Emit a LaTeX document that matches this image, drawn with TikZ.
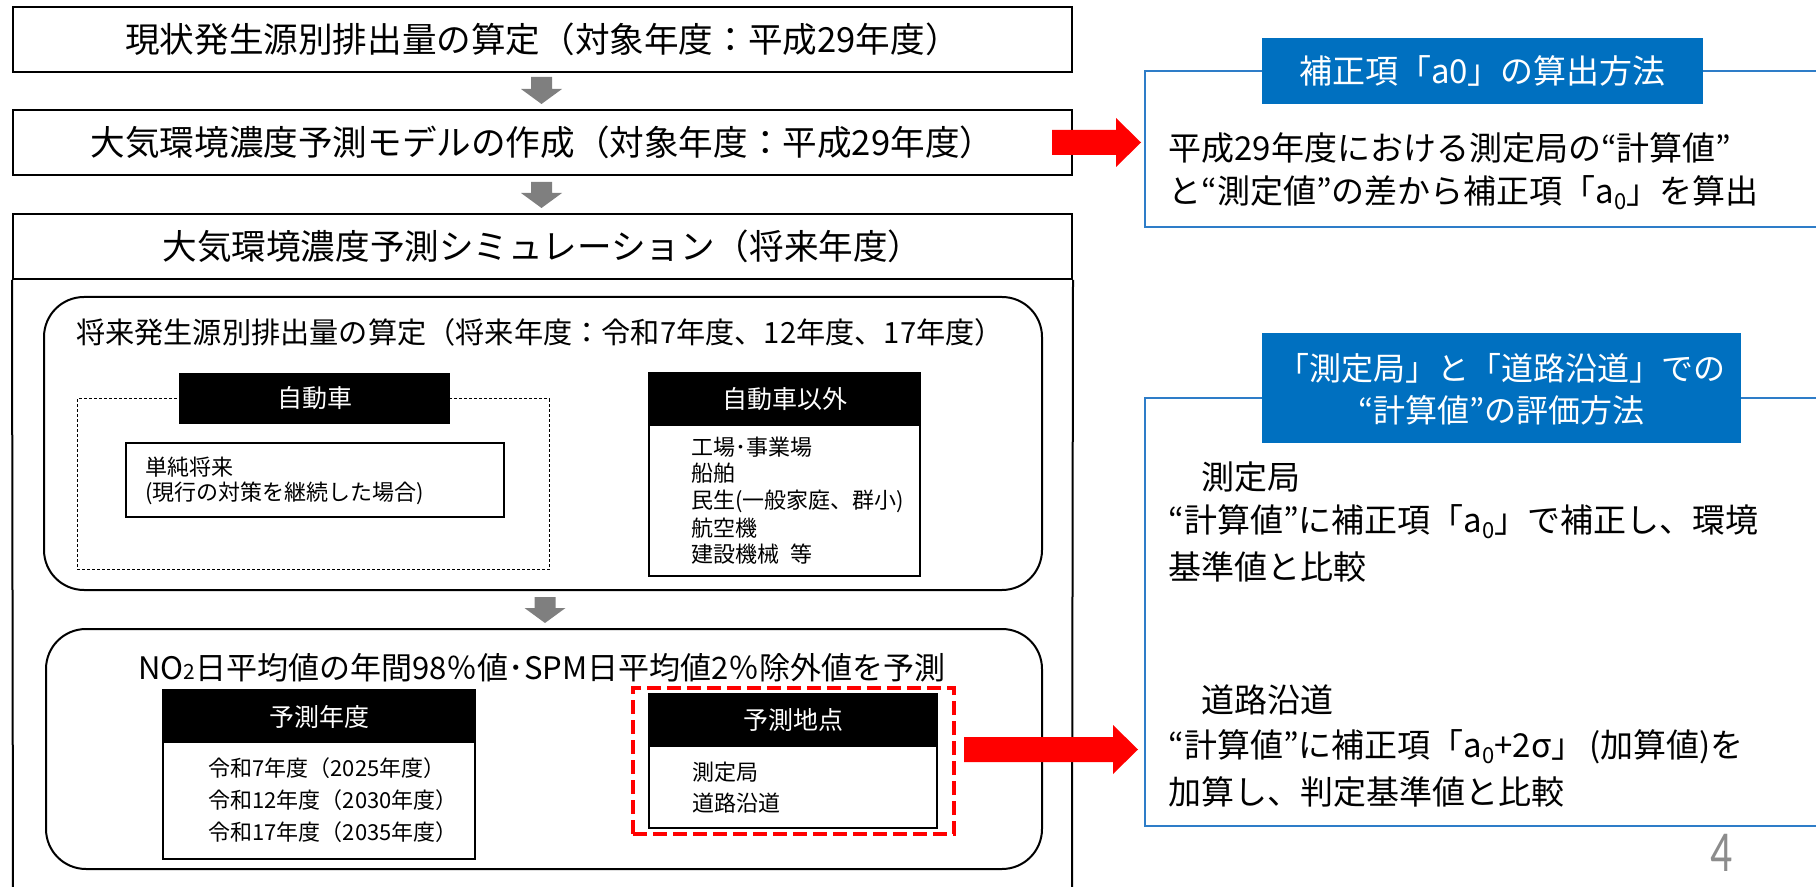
\documentclass[tikz,border=0pt]{standalone}
\usepackage{fontspec}
\usepackage{graphicx}
\setmainfont{Noto Sans CJK JP}
\newfontfamily\pagefont{Carlito}
\usetikzlibrary{fit}
\definecolor{hdrblue}{HTML}{0070C0}
\definecolor{lineblue}{HTML}{2E7DC8}
\definecolor{arrowgray}{HTML}{7F7F7F}
\definecolor{pagegray}{HTML}{8C8C8C}
\newcommand{\setfs}[1]{\fontsize{#1}{#1}\selectfont}
\newcommand{\subzero}[1]{\raisebox{-0.35ex}{\fontsize{11}{11}\selectfont #1}}
\newcommand{\grayblockdown}[3]{%
  \fill[arrowgray] (#1-10.5,#2) -- (#1+10.5,#2) -- (#1+10.5,#3-15) -- (#1+20.5,#3-15) -- (#1,#3) -- (#1-20.5,#3-15) -- (#1-10.5,#3-15) -- cycle;}
\newcommand{\redblockright}[4]{% x0, head base x, tip x, y center
  \fill[red] (#1,#4-12.5) -- (#2,#4-12.5) -- (#2,#4-24.5) -- (#3,#4) -- (#2,#4+24.5) -- (#2,#4+12.5) -- (#1,#4+12.5) -- cycle;}
\begin{document}
\begin{tikzpicture}[x=0.5pt,y=-0.5pt,
  frame/.style={draw=black, line width=1pt, inner sep=0pt, fill=white},
  thinframe/.style={draw=black, line width=0.8pt, inner sep=0pt, fill=white},
  roundframe/.style={draw=black, line width=1pt, rounded corners=20pt, inner sep=0pt},
  blackhdr/.style={fill=black, inner sep=0pt},
  hdrtext/.style={text=white, inner sep=0pt, font=\setfs{12.5}},
  titletext/.style={inner sep=0pt, font=\setfs{17.3}},
  listtext/.style={anchor=west, inner sep=0pt, font=\setfs{11}},
  bodytext/.style={anchor=west, inner sep=0pt, font=\setfs{16.5}},
  bluehdr/.style={fill=hdrblue, inner sep=0pt},
  whitetext/.style={text=white, inner sep=0pt, font=\setfs{16}},
]
\useasboundingbox (0,0) rectangle (1816,887);

% ---- main flow boxes
\node[frame, fit={(13,7)(1072,72)}] (b1) {};
\node[titletext] (b1t) at (b1.center) {現状発生源別排出量の算定（対象年度：平成29年度）};
\node[frame, fit={(13,110)(1072,175)}] (b2) {};
\node[titletext] (b2t) at (b2.center) {大気環境濃度予測モデルの作成（対象年度：平成29年度）};
\node[frame, fit={(13,214)(1072,279)}] (b3) {};
\node[titletext] (b3t) at (b3.center) {大気環境濃度予測シミュレーション（将来年度）};
\coordinate (b3bl) at (13,900);
\coordinate (b3br) at (1072,900);
\draw[line width=1pt] (b3.south west) -- (b3bl);
\draw[line width=1pt] (b3.south east) -- (b3br);

\grayblockdown{541.5}{77}{104}
\grayblockdown{541.5}{182}{208}

% ---- future emissions block
\node[roundframe, fit={(44,297)(1042,590)}] (rA) {};
\node[inner sep=0pt, font=\setfs{14.6}] (rAt) at (540,332) {将来発生源別排出量の算定（将来年度：令和7年度、12年度、17年度）};

\node[draw=black, line width=0.5pt, dash pattern=on 1.5pt off 1pt, inner sep=0pt, fit={(77,399)(549,570)}] (cardash) {};
\node[blackhdr, fit={(179,373)(450,424)}] (carh) {};
\node[hdrtext] (carht) at (carh.center) {自動車};
\node[thinframe, fit={(126,443)(504,517)}] (carbody) {};
\node[listtext] (c1) at (145,467) {単純将来};
\node[listtext] (c2) at (145,493) {(現行の対策を継続した場合)};

\node[thinframe, fit={(649,373)(920,576)}] (othbody) {};
\node[blackhdr, fit={(649,373)(920,426)}] (othh) {};
\node[hdrtext] (othht) at (othh.center) {自動車以外};
\node[listtext] (o1) at (691,447) {工場･事業場};
\node[listtext] (o2) at (691,473) {船舶};
\node[listtext] (o3) at (691,501) {民生(一般家庭、群小)};
\node[listtext] (o4) at (691,528) {航空機};
\node[listtext] (o5) at (691,554) {建設機械\hspace{0.5em}等};

\grayblockdown{545}{597}{623}

% ---- prediction block
\node[roundframe, fit={(46,629)(1042,869)}] (rB) {};
\node[inner sep=0pt, font=\setfs{15.5}] (rBt) at (542,668) {NO{\setfs{10.5}2}日平均値の年間98％値･SPM日平均値2％除外値を予測};

\node[thinframe, fit={(163,690)(475,859)}] (yrbody) {};
\node[blackhdr, fit={(163,690)(475,743)}] (yrh) {};
\node[hdrtext] (yrht) at (yrh.center) {予測年度};
\node[listtext] (y1) at (208,768) {令和7年度（2025年度）};
\node[listtext] (y2) at (208,800) {令和12年度（2030年度）};
\node[listtext] (y3) at (208,832) {令和17年度（2035年度）};

\node[draw=red, line width=1.75pt, dash pattern=on 7pt off 3pt, inner sep=0pt, fit={(633,688)(954,834)}] (reddash) {};
\node[thinframe, fit={(649,694)(937,828)}] (ptbody) {};
\node[blackhdr, fit={(649,694)(937,747)}] (pth) {};
\node[hdrtext] (ptht) at (pth.center) {予測地点};
\node[listtext] (p1) at (692,772) {測定局};
\node[listtext] (p2) at (692,803) {道路沿道};

% ---- red arrows
\redblockright{1052}{1116}{1141}{142.5}
\redblockright{964}{1113}{1138}{749.5}

% ---- right panel 1
\coordinate (rp1a) at (1816,71);
\coordinate (rp1b) at (1145,71);
\coordinate (rp1c) at (1145,227);
\coordinate (rp1d) at (1816,227);
\draw[lineblue, line width=1pt] (rp1a) -- (rp1b) -- (rp1c) -- (rp1d);
\node[bluehdr, fit={(1262,38)(1703,104)}] (h1) {};
\node[whitetext, font=\setfs{16.5}] (h1t) at (h1.center) {補正項「a0」の算出方法};
\node[bodytext] (t1) at (1168,148) {平成29年度における測定局の“計算値”};
\node[bodytext] (t2) at (1168,193) {と“測定値”の差から補正項「a\subzero{0}」を算出};

% ---- right panel 2
\coordinate (rp2a) at (1816,398);
\coordinate (rp2b) at (1145,398);
\coordinate (rp2c) at (1145,826);
\coordinate (rp2d) at (1816,826);
\draw[lineblue, line width=1pt] (rp2a) -- (rp2b) -- (rp2c) -- (rp2d);
\node[bluehdr, fit={(1262,333)(1741,443)}] (h2) {};
\node[whitetext] (h2a) at (1501.5,368) {「測定局」と「道路沿道」での};
\node[whitetext] (h2b) at (1501.5,410) {“計算値”の評価方法};
\node[bodytext] (s1) at (1168,477) {　測定局};
\node[bodytext] (s2) at (1168,522) {“計算値”に補正項「a\subzero{0}」で補正し、環境};
\node[bodytext] (s3) at (1168,567) {基準値と比較};
\node[bodytext] (s4) at (1168,700) {　道路沿道};
\node[bodytext] (s5) at (1168,747) {“計算値”に補正項「a\subzero{0}+2σ」\,(加算値)を};
\node[bodytext] (s6) at (1168,792) {加算し、判定基準値と比較};

% ---- page number
\node[inner sep=0pt, text=pagegray, font=\pagefont\setfs{29}] (pg) at (1722,853) {\scalebox{0.75}[1]{4}};
\end{tikzpicture}
\end{document}
